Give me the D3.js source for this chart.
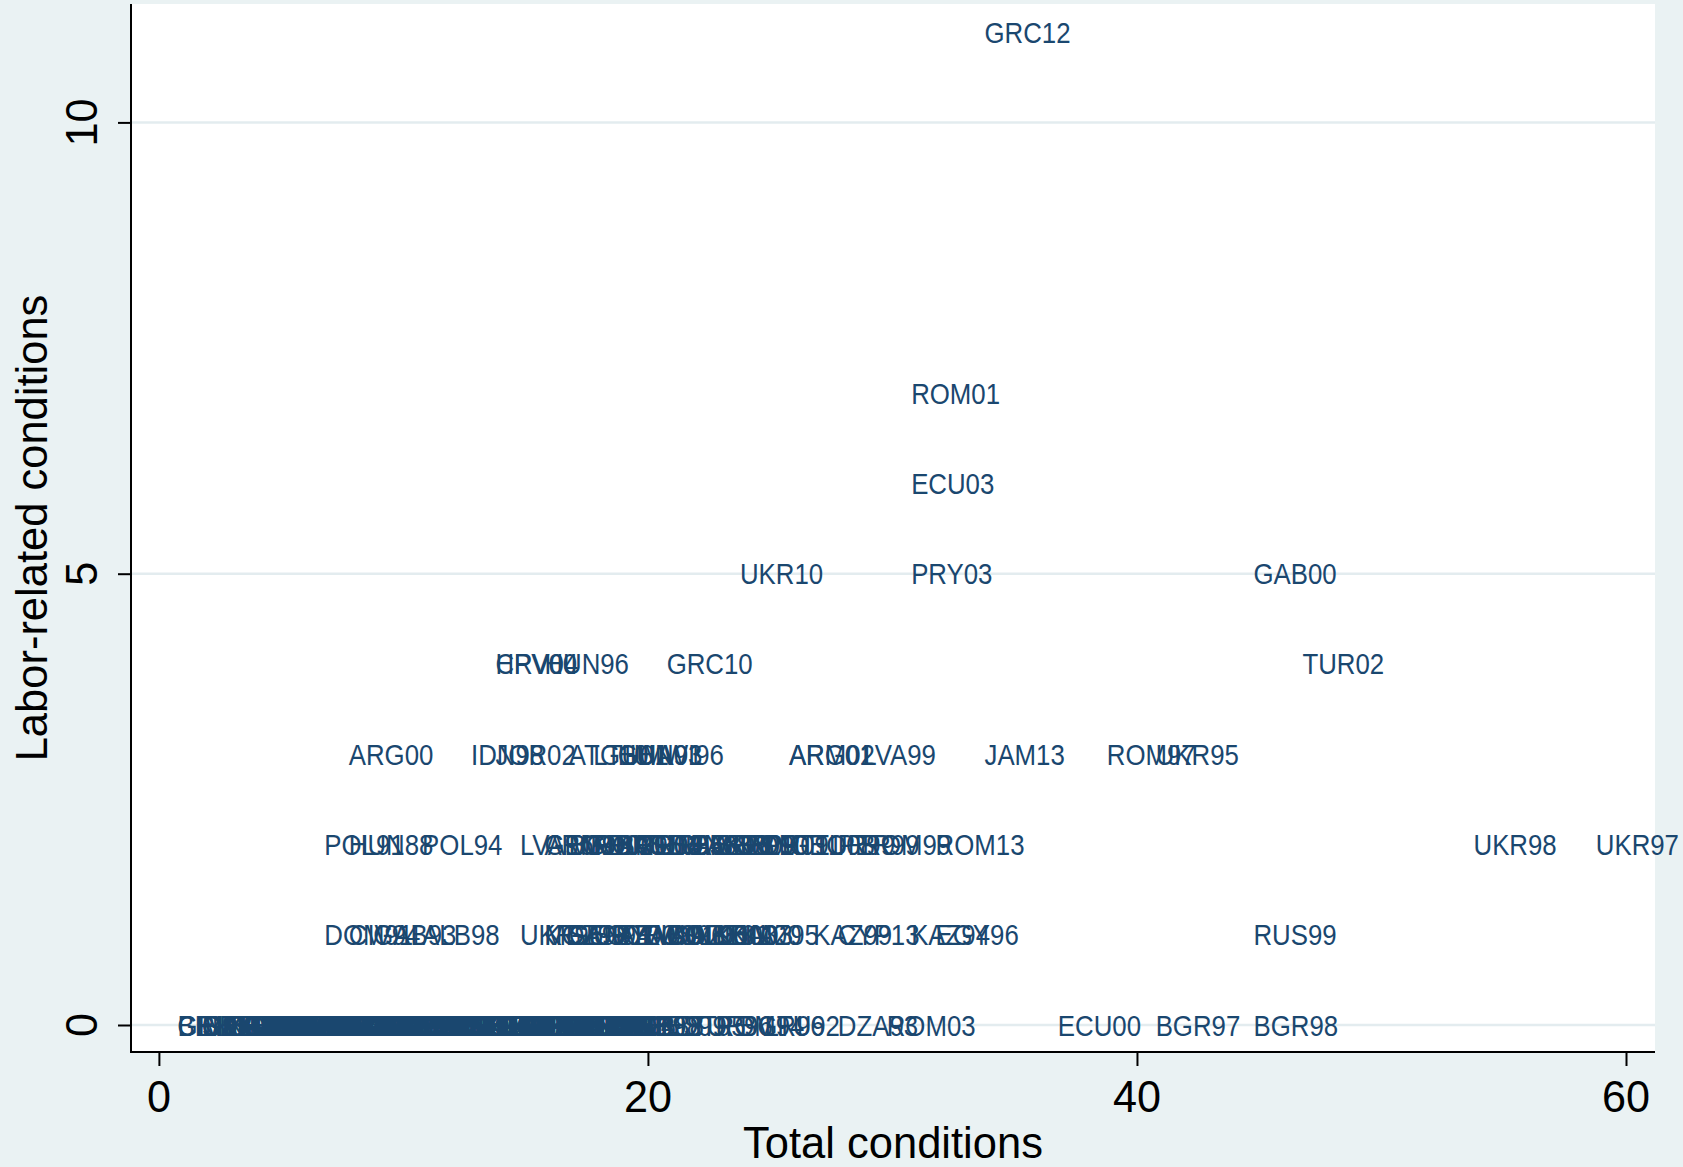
<!DOCTYPE html>
<html>
<head>
<meta charset="utf-8">
<script src="https://cdn.jsdelivr.net/npm/d3@7"></script>
<style>
  html, body { margin: 0; padding: 0; background: #eaf2f3; }
  svg { display: block; }
  text { font-family: "Liberation Sans", Arial, Helvetica, sans-serif; }
</style>
</head>
<body>
<svg id="chart" width="1683" height="1167"></svg>
<script>
// Programme labels grouped by number of labor-related conditions,
// with the total number of conditions for each programme.
const codesL0 = [
  "GIN98","CRI91","BEN89",
  "MLI92","CAF94","GMB96","SEN91",
  "COG90","BFA93","TGO94","NER96","ZAR89",
  "MDG96","BDI91","CMR94","GHA95","TCD97","HTI95",
  "MOZ90","ETH96","UGA97","MWI88","SLE94","RWA98","KEN93",
  "NIC94","BOL92","HND90","SLV93","GTM92","PAN95","VEN89",
  "MEX95","CHL89","URY96","COL99","PHL94","THA97","IND91",
  "PAK93","LKA91","BGD90","NPL92","EGY91","MAR92","TUN88",
  "JOR89","YEM96","DZA91","MNG97","VNM94","LAO93",
  "KHM99","KGZ98","GEO96","ARM95","AZE96","MDA95",
  "BLR95","EST93","LVA95","LTU94","SVK94","SVN93",
  "CZE93","MKD95","HRV97","ALB93","BGR91",
  "POL90","HUN90","ROM91","RUS92","UKR94",
  "KAZ96","UZB95","TJK98","TKM92","SRB01",
  "BRA98","ARG91","PER93","ECU94","MLI96","BEN96",
  "DOM93","JAM90","TTO90","GUY98","HTI98","BOL98",
  "IDN00","KOR98","PHL98","THA98","MEX89","VEN96",
  "PAK01","LKA01","TUR94","CRI93","URY95",
  "MAR88","ZMB98",
  "HND99",
  "EST95",
  "TUR96",
  "ROM94",
  "BGR96",
  "LTU92",
  "DZA93","ROM03",
  "ECU00","BGR97","BGR98"
];
const totalL0 = [
  0,0,0,
  1,1,1,1,
  2,2,2,2,2,
  3,3,3,3,3,3,
  4,4,4,4,4,4,4,
  5,5,5,5,5,5,5,
  6,6,6,6,6,6,6,
  7,7,7,7,7,7,7,
  8,8,8,8,8,8,
  9,9,9,9,9,9,
  10,10,10,10,10,10,
  11,11,11,11,11,
  12,12,12,12,12,
  13,13,13,13,13,
  14,14,14,14,14,14,
  15,15,15,15,15,15,
  16,16,16,16,16,16,
  17,17,17,17,17,
  18,18,
  19,
  20,
  21,
  22,
  23,
  24,
  27,29,
  36,40,44
];

const codesL1 = [
  "DOM91","CIV94","GAB93","ALB98",
  "UKR96","KGZ99","MDA98","SEN94","GEO01","URY00",
  "ARM99","TZA00","RUS96","LVA01","COL03","BOL96",
  "AZE01","MKD03","LKA03","KHM00",
  "KAZ95","KAZ99","CYP13","KAZ94","EGY96","RUS99"
];
const totalL1 = [
  6,7,8,10,
  14,15,15,16,16,17,
  18,18,19,19,20,20,
  21,21,22,22,
  23,26,27,30,31,44
];

const codesL2 = [
  "POL91","HUN88","POL94",
  "LVA96","ARM96","GEO98","MKD00","BGR02","MDA01","ROM95",
  "BGR04","ARG03","TUR05","ISL08","HUN08","LVA08",
  "UKR08","PAK08","SRB09","BLR09","ROM09","IRL10",
  "PRT11","GEO08","TUR99","PER99","ROM99",
  "ROM13","UKR98","UKR97"
];
const totalL2 = [
  6,7,10,
  14,15,15,16,16,17,17,
  18,18,19,19,20,20,
  21,21,22,22,23,23,
  24,25,26,27,28,
  31,53,58
];

const codesL3 = [
  "ARG00","IDN98","JOR02",
  "ATG10","LTU01","GHA03","HUN91","MWI96",
  "ARG01","ARM02","LVA99","JAM13","ROM97","UKR95"
];
const totalL3 = [
  7,12,13,
  16,17,18,18,19,
  25,25,28,33,38,40
];

const codesL4 = ["HRV04","CPV00","HUN96","GRC10","TUR02"];
const totalL4 = [13,13,15,20,46];

const codesL5 = ["UKR10","PRY03","GAB00"];
const totalL5 = [23,30,44];

const codesL6 = ["ECU03"];
const totalL6 = [30];

const codesL7 = ["ROM01"];
const totalL7 = [30];

const codesL11 = ["GRC12"];
const totalL11 = [33];

const xTicks = [0, 20, 40, 60];
const yTicks = [0, 5, 10];
const xTitle = "Total conditions";
const yTitle = "Labor-related conditions";

// Flatten the groups into one list of points for drawing.
const groups = [
  [0, codesL0, totalL0], [1, codesL1, totalL1], [2, codesL2, totalL2],
  [3, codesL3, totalL3], [4, codesL4, totalL4], [5, codesL5, totalL5],
  [6, codesL6, totalL6], [7, codesL7, totalL7], [11, codesL11, totalL11]
];
const points = groups.flatMap(([labor, codes, totals]) =>
  codes.map((code, i) => ({ code, total: totals[i], labor })));

const svg = d3.select("#chart");
const W = 1683, H = 1167;

// Plot region
const plot = { left: 131, right: 1655, top: 4, bottom: 1052 };

const x = d3.scaleLinear().domain([0, 60]).range([158.9, 1626]);
const y = d3.scaleLinear().domain([0, 10]).range([1025, 122.4]);

svg.append("rect").attr("width", W).attr("height", H).attr("fill", "#eaf2f3");
svg.append("rect")
  .attr("x", plot.left).attr("y", plot.top)
  .attr("width", plot.right - plot.left).attr("height", plot.bottom - plot.top)
  .attr("fill", "#ffffff");

// Horizontal gridlines
svg.append("g").selectAll("line").data(yTicks).join("line")
  .attr("x1", plot.left).attr("x2", plot.right)
  .attr("y1", d => y(d)).attr("y2", d => y(d))
  .attr("stroke", "#e3ecef").attr("stroke-width", 2.5);

// Marker labels (no marker symbols), placed to the right of each point
const labelColor = "#1a476f";
const gap = 18.7;
const lbl = svg.append("g").attr("fill", labelColor).attr("font-size", 29);
lbl.selectAll("g").data(points).join("g")
  .attr("transform", d => `translate(${x(d.total) + gap},${y(d.labor) + 10.5})`)
  .append("text")
  .attr("transform", "scale(0.89,1)")
  .text(d => d.code);

// Y axis
const yAxis = d3.axisLeft(y).tickValues(yTicks).tickSize(13).tickFormat(d3.format("d"));
const gy = svg.append("g").attr("transform", `translate(${plot.left},0)`).call(yAxis);
gy.select(".domain").remove();
gy.selectAll(".tick line").attr("stroke", "#000").attr("stroke-width", 2);
gy.selectAll(".tick text").remove();
svg.append("g").selectAll("text").data(yTicks).join("text")
  .attr("transform", d => `translate(96.5,${y(d)}) rotate(-90) scale(0.96,1)`)
  .attr("text-anchor", "middle")
  .attr("font-size", 45)
  .attr("fill", "#000")
  .text(d => d);

// X axis
const xAxis = d3.axisBottom(x).tickValues(xTicks).tickSize(14).tickFormat(d3.format("d"));
const gx = svg.append("g").attr("transform", `translate(0,${plot.bottom})`).call(xAxis);
gx.select(".domain").remove();
gx.selectAll(".tick line").attr("stroke", "#000").attr("stroke-width", 2);
gx.selectAll(".tick text").remove();
svg.append("g").selectAll("text").data(xTicks).join("text")
  .attr("transform", d => `translate(${x(d)},1112) scale(0.96,1)`)
  .attr("text-anchor", "middle")
  .attr("font-size", 45)
  .attr("fill", "#000")
  .text(d => d);

// Axis lines
svg.append("line")
  .attr("x1", plot.left).attr("x2", plot.left)
  .attr("y1", plot.top).attr("y2", plot.bottom + 1)
  .attr("stroke", "#000").attr("stroke-width", 2);
svg.append("line")
  .attr("x1", plot.left - 1).attr("x2", plot.right)
  .attr("y1", plot.bottom).attr("y2", plot.bottom)
  .attr("stroke", "#000").attr("stroke-width", 2);

// Axis titles
svg.append("text")
  .attr("x", (plot.left + plot.right) / 2).attr("y", 1158)
  .attr("text-anchor", "middle").attr("font-size", 43.5).attr("fill", "#000")
  .text(xTitle);
svg.append("text")
  .attr("transform", `translate(47,${(plot.top + plot.bottom) / 2}) rotate(-90)`)
  .attr("text-anchor", "middle").attr("font-size", 43.5).attr("fill", "#000")
  .text(yTitle);
</script>
</body>
</html>
